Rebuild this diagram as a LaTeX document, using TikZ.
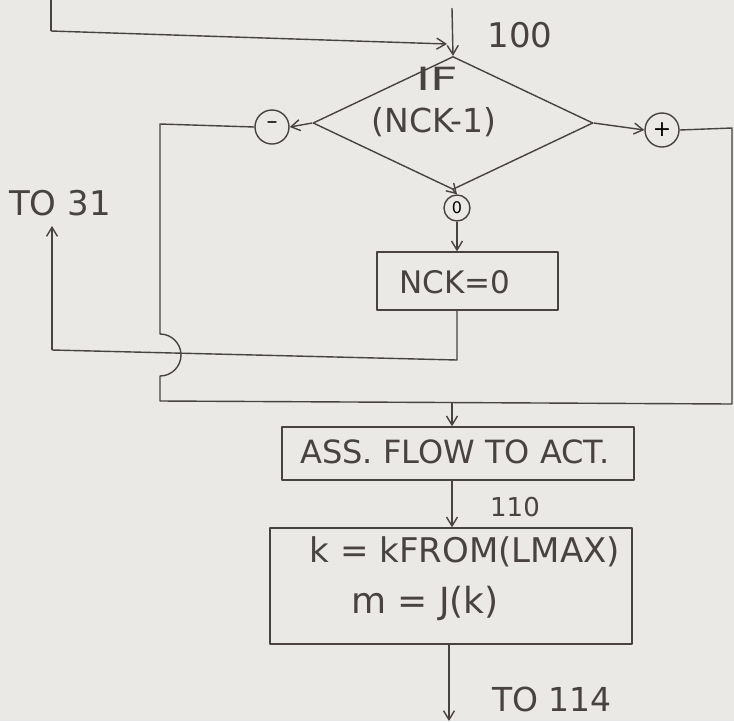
\documentclass[tikz,border=0pt]{standalone}
\usepackage{fontspec}
\setmainfont{DejaVu Sans}
\usetikzlibrary{shapes.geometric,arrows.meta,calc}
\definecolor{paper}{RGB}{234,233,229}
\definecolor{ink}{RGB}{72,66,66}
\tikzset{
  ln/.style={draw=ink, line width=1.4pt, line join=round},
  arr/.style={ln, -{Straight Barb[length=9pt,width=11pt,line width=1.4pt]}},
  boxn/.style={ln, rectangle, inner sep=0pt},
  circn/.style={ln, circle, inner sep=0pt},
  txt/.style={text=ink, inner sep=0pt, anchor=center}
}
\newcommand{\fs}[1]{\fontsize{#1}{#1}\selectfont}
\begin{document}
\begin{tikzpicture}[x=1pt,y=-1pt]
\fill[paper] (0,0) rectangle (734,721);
\useasboundingbox (0,0) rectangle (734,721);

% decision
\node[ln, diamond, minimum width=280pt, minimum height=133pt, inner sep=0pt] (D) at (453,123) {};
\node[txt] (ift) at (437,79) {\fs{32}\scalebox{1.5}[1]{IF}};
\node[txt] (nck) at (434,122) {\fs{33}(NCK-1)};

\node[circn, minimum size=34pt] (M) at (272,127) {\fs{22}\raisebox{4pt}{–}};
\node[circn, minimum size=34pt] (P) at (662,130) {\fs{22}+};
\node[circn, minimum size=26pt] (Z) at (457,208) {\fs{16}0};

\node[boxn, minimum width=181pt, minimum height=58pt] (N) at (467.5,281) {};
\node[txt] (nt) at (455,282) {\fs{31}NCK=0};

\node[boxn, minimum width=352pt, minimum height=53pt] (A) at (458,453.5) {};
\node[txt] (at) at (455,452) {\fs{32}ASS. FLOW TO ACT.};

\node[boxn, minimum width=362pt, minimum height=116pt] (K) at (451,586) {};
\node[txt] (k1) at (465,552) {\fs{34}k = kFROM(LMAX)};
\node[txt] (k2) at (425,603) {\fs{36}m = J(k)};

% labels
\node[txt] (l100) at (520,35) {\fs{34}100};
\node[txt] (l110) at (515,507) {\fs{26}110};
\node[txt] (l31) at (60,203) {\fs{34}TO 31};
\node[txt] (l114) at (552,699) {\fs{33}TO 114};

% coordinates
\coordinate (tl) at (51,0);
\coordinate (tc) at (51,31);
\coordinate (in1) at (447,44);
\coordinate (vt) at (452,8);
\coordinate (lc) at (160,124);
\coordinate (j1) at (160,334);
\coordinate (lb) at (160,401);
\coordinate (rc) at (732,128);
\coordinate (rb) at (732,404);
\coordinate (ja) at (452,402);
\coordinate (nb) at (457,360);
\coordinate (lb2) at (52,350);
\coordinate (to31) at (52,226);
\coordinate (end) at (449,721);

% connectors
\draw[ln] (tl) -- (tc);
\draw[arr] (tc) -- (in1);
\draw[arr] (vt) -- (D.north);
\draw[arr] (D.west) -- (M.east);
\draw[arr] (D.east) -- (P.west);
\draw[arr] (D.south) -- (Z.north);
\draw[arr] (Z.south) -- (Z.south |- N.north);
\draw[ln] (M.west) -- (lc) -- (j1) arc[start angle=90, end angle=-90, radius=21pt] -- (lb) -- (rb);
\draw[ln] (P.east) -- (rc) -- (rb);
\draw[arr] (ja) -- (ja |- A.north);
\draw[ln] (Z.south |- N.south) -- (nb) -- (lb2);
\draw[arr] (lb2) -- (to31);
\draw[arr] (ja |- A.south) -- (ja |- K.north);
\draw[arr] (end |- K.south) -- (end);
\end{tikzpicture}
\end{document}
